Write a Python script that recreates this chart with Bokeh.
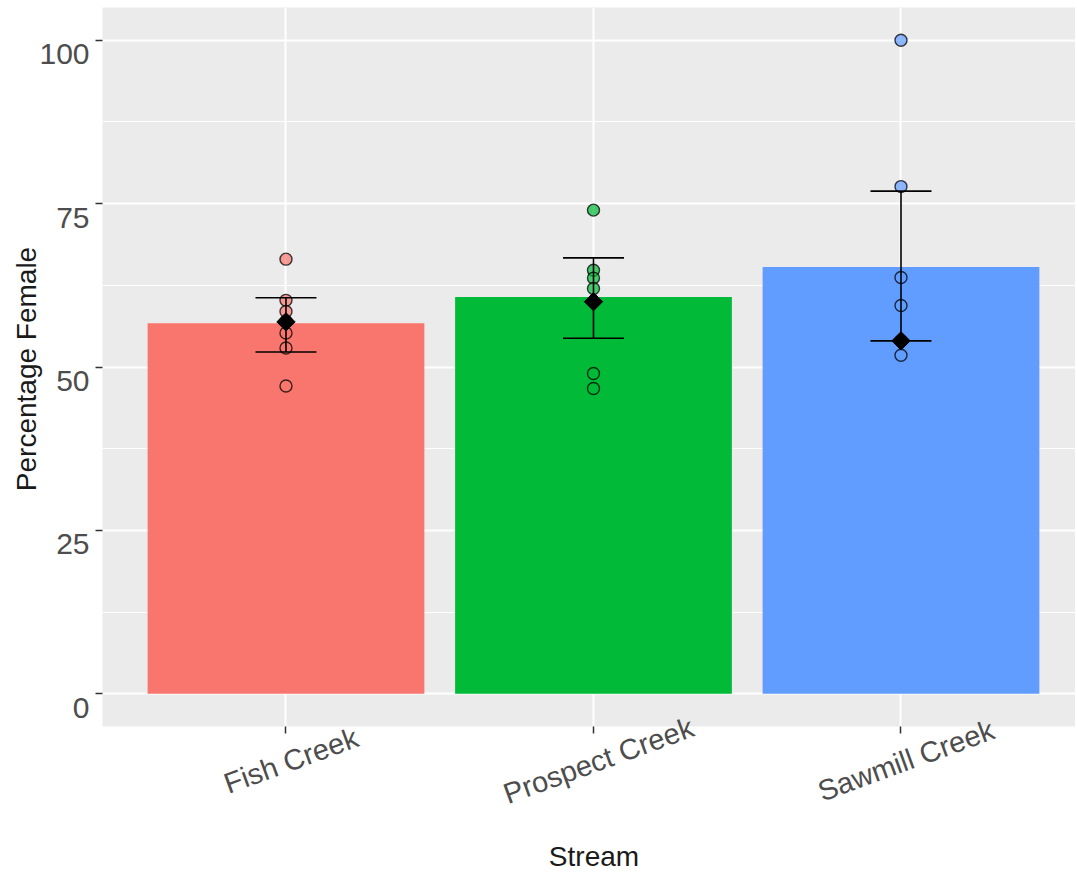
import math
from bokeh.plotting import figure
from bokeh.models import Range1d, FixedTicker, Label
from bokeh.embed import file_html
from bokeh.resources import INLINE

# ---- data ----
streams = ["Fish Creek", "Prospect Creek", "Sawmill Creek"]
bar_values = [56.7, 60.7, 65.3]
colors = ["#F8766D", "#00BA38", "#619CFF"]
center_values = [56.9, 60.0, 54.0]
err_low = [52.3, 54.4, 54.0]
err_high = [60.6, 66.7, 76.9]
fish_points = [66.5, 60.2, 58.5, 57.0, 55.2, 52.9, 47.1]
prospect_points = [74.0, 64.8, 63.6, 62.0, 60.0, 49.0, 46.7]
sawmill_points = [100.0, 77.6, 63.7, 59.4, 54.0, 51.8]
y_ticks = [0, 25, 50, 75, 100]
y_minor = [12.5, 37.5, 62.5, 87.5]
x_title = "Stream"
y_title = "Percentage Female"

xs = [i + 1 for i in range(len(streams))]
X0, X1, Y0, Y1 = 0.4033, 3.5675, -5, 105

p = figure(frame_width=973, frame_height=719, output_backend="svg", toolbar_location=None,
           x_range=Range1d(X0, X1), y_range=Range1d(Y0, Y1),
           min_border_left=102, min_border_right=0, min_border_top=7, min_border_bottom=142)
p.background_fill_color = "#EBEBEB"
p.border_fill_color = "white"
p.outline_line_color = None

# grid
p.xgrid.ticker = FixedTicker(ticks=xs)
p.ygrid.ticker = FixedTicker(ticks=y_ticks, minor_ticks=y_minor)
p.xgrid.grid_line_color = "white"
p.xgrid.grid_line_width = 2
p.ygrid.grid_line_color = "white"
p.ygrid.grid_line_width = 2
p.ygrid.minor_grid_line_color = "white"
p.ygrid.minor_grid_line_width = 1

# axes (ticks only; texts are placed as labels below)
p.xaxis.ticker = FixedTicker(ticks=xs)
p.xaxis.major_label_overrides = {x: "" for x in xs}
p.yaxis.ticker = FixedTicker(ticks=y_ticks)
p.yaxis.major_label_overrides = {t: "" for t in y_ticks}
for ax in (p.xaxis[0], p.yaxis[0]):
    ax.axis_line_color = None
    ax.major_tick_line_color = "#333333"
    ax.major_tick_line_width = 1.5
    ax.major_tick_out = 7
    ax.major_tick_in = 0
    ax.minor_tick_line_color = None
    ax.major_label_text_font_size = "10px"

FONT = "Liberation Sans"
# all texts go in the lower side panel (not clipped to the frame, no effect on width)
side = "below"

# y tick labels
for t in y_ticks:
    p.add_layout(Label(x=X0, y=t, x_offset=-13, y_offset=-14, text=str(t),
                       text_align="right", text_baseline="middle",
                       text_font=FONT, text_font_size="30px", text_color="#4D4D4D"), side)
# y axis title
p.add_layout(Label(x=X0, y=(Y0 + Y1) / 2, x_offset=-76, y_offset=-2, text=y_title,
                   angle=math.pi / 2, text_align="center", text_baseline="middle",
                   text_font=FONT, text_font_size="28px", text_color="#1A1A1A"), side)

# rotated category labels
for x, s in zip(xs, streams):
    p.add_layout(Label(x=x, y=Y0, x_offset=5, y_offset=-34, text=s, angle=0.35,
                       text_align="center", text_baseline="middle",
                       text_font=FONT, text_font_size="29px",
                       text_color="#4D4D4D"), side)
# x axis title
p.add_layout(Label(x=(X0 + 3.6) / 2, y=Y0, y_offset=-130, text=x_title,
                   text_align="center", text_baseline="middle",
                   text_font=FONT, text_font_size="28px",
                   text_color="#1A1A1A"), side)

# bars
p.vbar(x=xs, top=bar_values, bottom=0, width=0.9, fill_color=colors, line_color=None)

# points
for x, pts, c in zip(xs, [fish_points, prospect_points, sawmill_points], colors):
    p.scatter(x=[x] * len(pts), y=pts, size=12, marker="circle", fill_color=c,
              fill_alpha=0.7, line_color="black", line_alpha=0.75, line_width=1.4)

# error bars
p.segment(x0=xs, y0=err_low, x1=xs, y1=err_high, line_color="black", line_width=1.6)
p.scatter(x=xs + xs, y=err_low + err_high, marker="dash", size=61,
          line_color="black", line_width=1.6)

# center markers
p.scatter(x=xs, y=center_values, marker="square", angle=0.785398, size=13,
          fill_color="black", line_color="black")

open("out.html", "w").write(file_html(p, INLINE))
